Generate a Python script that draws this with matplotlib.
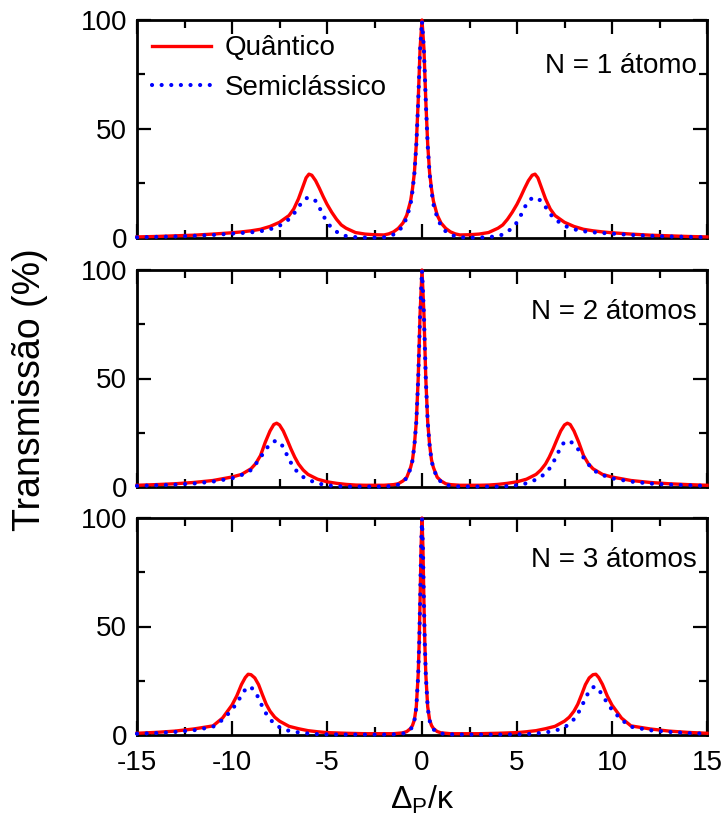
import matplotlib
matplotlib.use("Agg")
import matplotlib.pyplot as plt
from matplotlib.ticker import MultipleLocator

plt.rcParams['font.family'] = ['Liberation Sans', 'DejaVu Sans']
plt.rcParams['mathtext.fontset'] = 'custom'
plt.rcParams['mathtext.rm'] = 'Liberation Sans'
plt.rcParams['mathtext.it'] = 'Liberation Sans:italic'
plt.rcParams['axes.unicode_minus'] = False

# ---------------- data ----------------
x_n1 = [-15, -14, -13, -12, -11, -10, -9.5, -9, -8.5, -8, -7.5, -7, -6.75, -6.5, -6.25, -6.1, -5.95, -5.8,
        -5.6, -5.4, -5.2, -5, -4.75, -4.5, -4.25, -4, -3.5, -3, -2.5, -2, -1.75, -1.5, -1.25, -1, -0.8, -0.6,
        -0.5, -0.4, -0.3, -0.2, -0.1, 0, 0.1, 0.2, 0.3, 0.4, 0.5, 0.6, 0.8, 1, 1.25, 1.5, 1.75, 2, 2.5, 3,
        3.5, 4, 4.25, 4.5, 4.75, 5, 5.2, 5.4, 5.6, 5.8, 5.95, 6.1, 6.25, 6.5, 6.75, 7, 7.5, 8, 8.5, 9, 9.5,
        10, 11, 12, 13, 14, 15]
quantico_n1 = [0.5, 0.7, 1.0, 1.3, 1.8, 2.4, 2.8, 3.3, 4.0, 5.3, 7.2, 10.3, 13.3, 18.0, 24.0, 27.6, 29.3, 28.8,
               26.3, 22.8, 19.0, 15.5, 11.8, 8.6, 6.0, 4.5, 2.5, 1.8, 1.5, 1.4, 1.9, 2.8, 4.4, 6.9, 10.5, 17.0,
               22.6, 30.0, 43.0, 63.0, 87.0, 100.0, 87.0, 63.0, 43.0, 30.0, 22.6, 17.0, 10.5, 6.9, 4.4, 2.8,
               1.9, 1.4, 1.5, 1.8, 2.5, 4.5, 6.0, 8.6, 11.8, 15.5, 19.0, 22.8, 26.3, 28.8, 29.3, 27.6, 24.0,
               18.0, 13.3, 10.3, 7.2, 5.3, 4.0, 3.3, 2.8, 2.4, 1.8, 1.3, 1.0, 0.7, 0.5]
semi_n1 = [0.3, 0.5, 0.7, 1.0, 1.4, 2.0, 2.3, 2.6, 3.1, 4.0, 5.6, 8.6, 11.0, 14.3, 17.0, 18.2, 18.6, 18.3,
           17.0, 14.0, 10.4, 7.2, 4.6, 2.9, 1.6, 0.9, 0.4, 0.2, 0.2, 0.3, 0.8, 1.6, 3.0, 5.6, 9.4, 15.5,
           21.5, 29.5, 42.5, 62.5, 86.5, 99.5, 86.5, 62.5, 42.5, 29.5, 21.5, 15.5, 9.4, 5.6, 3.0, 1.6,
           0.8, 0.3, 0.2, 0.2, 0.4, 0.9, 1.6, 2.9, 4.6, 7.2, 10.4, 14.0, 17.0, 18.3, 18.6, 18.2, 17.0,
           14.3, 11.0, 8.6, 5.6, 4.0, 3.1, 2.6, 2.3, 2.0, 1.4, 1.0, 0.7, 0.5, 0.3]

x_n2 = [-15, -14, -13, -12, -11, -10, -9.5, -9, -8.75, -8.5, -8.25, -8, -7.8, -7.65, -7.5, -7.3, -7.1, -6.9,
        -6.7, -6.5, -6.25, -6, -5.5, -5, -4.5, -4, -3.5, -3, -2.5, -2, -1.5, -1.25, -1, -0.8, -0.6, -0.5,
        -0.4, -0.3, -0.2, -0.1, 0, 0.1, 0.2, 0.3, 0.4, 0.5, 0.6, 0.8, 1, 1.25, 1.5, 2, 2.5, 3, 3.5, 4, 4.5,
        5, 5.5, 6, 6.25, 6.5, 6.7, 6.9, 7.1, 7.3, 7.5, 7.65, 7.8, 8, 8.25, 8.5, 8.75, 9, 9.5, 10, 11, 12,
        13, 14, 15]
quantico_n2 = [0.8, 1.1, 1.5, 2.1, 3.0, 4.6, 5.8, 8.4, 10.8, 14.5, 20.6, 25.8, 28.8, 29.4, 28.6, 25.8, 21.8,
               17.6, 13.8, 10.6, 7.8, 5.8, 3.6, 2.4, 1.7, 1.2, 0.9, 0.8, 0.8, 0.8, 1.1, 1.5, 2.8, 4.5, 9.0,
               12.5, 19.5, 30.0, 50.0, 80.0, 100.0, 80.0, 50.0, 30.0, 19.5, 12.5, 9.0, 4.5, 2.8, 1.5, 1.1,
               0.8, 0.8, 0.8, 0.9, 1.2, 1.7, 2.4, 3.6, 5.8, 7.8, 10.6, 13.8, 17.6, 21.8, 25.8, 28.6, 29.4,
               28.8, 25.8, 20.6, 14.5, 10.8, 8.4, 5.8, 4.6, 3.0, 2.1, 1.5, 1.1, 0.8]
semi_n2 = [0.5, 0.8, 1.1, 1.6, 2.5, 4.0, 5.5, 7.8, 10.6, 13.6, 17.0, 19.8, 21.0, 21.3, 20.8, 18.4, 14.6,
           11.2, 8.4, 6.4, 4.6, 3.4, 1.7, 0.8, 0.4, 0.2, 0.2, 0.2, 0.2, 0.2, 0.5, 1.1, 2.4, 4.2, 8.6,
           12.2, 19.2, 29.8, 49.8, 79.8, 99.8, 79.8, 49.8, 29.8, 19.2, 12.2, 8.6, 4.2, 2.4, 1.1, 0.5,
           0.2, 0.2, 0.2, 0.2, 0.2, 0.4, 0.8, 1.7, 3.4, 4.6, 6.4, 8.4, 11.2, 14.6, 18.4, 20.8, 21.3,
           21.0, 19.8, 17.0, 13.6, 10.6, 7.8, 5.5, 4.0, 2.5, 1.6, 1.1, 0.8, 0.5]

x_n3 = [-15, -14, -13, -12, -11, -10.5, -10, -9.75, -9.5, -9.3, -9.15, -9, -8.8, -8.6, -8.4, -8.2, -8, -7.75,
        -7.5, -7, -6.5, -6, -5.5, -5, -4, -3, -2, -1.5, -1, -0.8, -0.6, -0.5, -0.4, -0.3, -0.2, -0.15, -0.1,
        -0.05, 0, 0.05, 0.1, 0.15, 0.2, 0.3, 0.4, 0.5, 0.6, 0.8, 1, 1.5, 2, 3, 4, 5, 5.5, 6, 6.5, 7, 7.5,
        7.75, 8, 8.2, 8.4, 8.6, 8.8, 9, 9.15, 9.3, 9.5, 9.75, 10, 10.5, 11, 12, 13, 14, 15]
quantico_n3 = [0.8, 1.2, 1.8, 2.8, 4.2, 7.8, 13.8, 18.0, 23.3, 26.5, 28.0, 27.8, 26.3, 23.2, 18.6, 14.2, 11.0,
               8.2, 6.4, 4.0, 2.9, 2.0, 1.5, 1.1, 0.8, 0.6, 0.6, 0.6, 1.0, 1.6, 3.0, 4.4, 7.0, 13.0, 28.0,
               42.0, 62.0, 86.0, 100.0, 86.0, 62.0, 42.0, 28.0, 13.0, 7.0, 4.4, 3.0, 1.6, 1.0, 0.6, 0.6,
               0.6, 0.8, 1.1, 1.5, 2.0, 2.9, 4.0, 6.4, 8.2, 11.0, 14.2, 18.6, 23.2, 26.3, 27.8, 28.0, 26.5,
               23.3, 18.0, 13.8, 7.8, 4.2, 2.8, 1.8, 1.2, 0.8]
semi_n3 = [0.6, 0.9, 1.4, 2.2, 3.8, 7.0, 11.6, 14.8, 18.2, 21.0, 22.3, 22.0, 20.2, 17.0, 13.0, 9.8, 7.3,
           5.0, 3.6, 1.9, 1.2, 0.7, 0.4, 0.3, 0.2, 0.2, 0.2, 0.3, 0.7, 1.3, 2.6, 4.0, 6.6, 12.6, 27.6,
           41.6, 61.6, 85.6, 99.8, 85.6, 61.6, 41.6, 27.6, 12.6, 6.6, 4.0, 2.6, 1.3, 0.7, 0.3, 0.2,
           0.2, 0.2, 0.3, 0.4, 0.7, 1.2, 1.9, 3.6, 5.0, 7.3, 9.8, 13.0, 17.0, 20.2, 22.0, 22.3, 21.0,
           18.2, 14.8, 11.6, 7.0, 3.8, 2.2, 1.4, 0.9, 0.6]

panel_labels = ["N = 1 átomo", "N = 2 átomos", "N = 3 átomos"]
series_names = ["Quântico", "Semiclássico"]
x_ticks = [-15, -10, -5, 0, 5, 10, 15]
y_ticks = [0, 50, 100]

panels = [(x_n1, quantico_n1, semi_n1), (x_n2, quantico_n2, semi_n2), (x_n3, quantico_n3, semi_n3)]

# ---------------- figure ----------------
W, H = 726, 832
fig = plt.figure(figsize=(W / 100, H / 100), dpi=100)
left = 137 / W
width = 570 / W
tops = [20, 270, 518]
bottoms = [238, 487, 735]
FS = 20

axes = []
for i, (xs, q, s) in enumerate(panels):
    ax = fig.add_axes([left, 1 - bottoms[i] / H, width, (bottoms[i] - tops[i]) / H])
    axes.append(ax)
    ax.plot(xs, q, color='#ff0000', lw=2.4, zorder=3, clip_on=False, label=series_names[0])
    ax.plot(xs, s, color='#0000ff', lw=3.0, zorder=4, clip_on=False, dash_capstyle='round',
            linestyle=(0, (0.01, 2.3)), label=series_names[1])
    ax.set_xlim(-15, 15)
    ax.set_ylim(0, 100)
    ax.set_xticks(x_ticks)
    ax.set_yticks(y_ticks)
    ax.xaxis.set_minor_locator(MultipleLocator(2.5))
    ax.yaxis.set_minor_locator(MultipleLocator(25))
    ax.tick_params(which='both', direction='in', top=True, right=True, width=1.6, labelsize=FS)
    ax.tick_params(which='major', length=10)
    ax.tick_params(which='minor', length=5.5)
    ax.tick_params(axis='y', pad=7)
    ax.tick_params(axis='x', pad=11)
    for sp in ax.spines.values():
        sp.set_linewidth(2.0)
    if i < 2:
        ax.tick_params(labelbottom=False)
    ax.text(0.982, 0.79 if i == 0 else 0.806, panel_labels[i], transform=ax.transAxes,
            ha='right', va='center', fontsize=FS)

axes[0].legend(loc='upper left', bbox_to_anchor=(0.0, 1.0), frameon=False, fontsize=FS,
               handlelength=2.1, handletextpad=0.5, labelspacing=0.5, borderpad=0.55,
               borderaxespad=0.0)

fig.text(30 / W, 1 - 390 / H, "Transmissão (%)", rotation=90, ha='center', va='center', fontsize=27)
fig.text(422 / W, 1 - 800 / H, r'$\mathrm{\Delta_P/\kappa}$', ha='center', va='center', fontsize=23)

fig.savefig("out.png", dpi=100)
